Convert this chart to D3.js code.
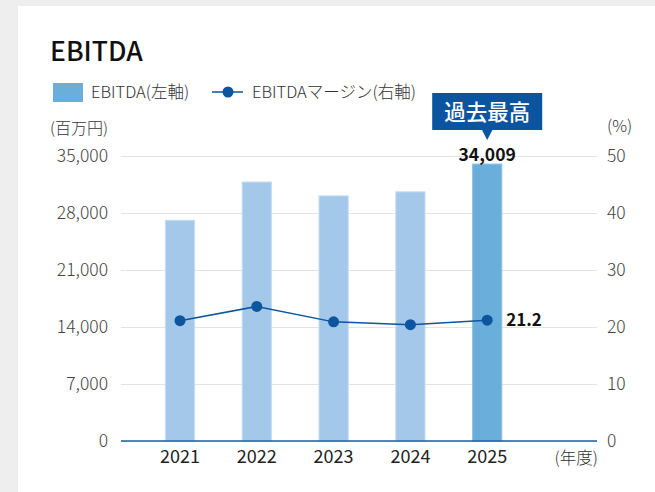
<!DOCTYPE html>
<html>
<head>
<meta charset="utf-8">
<script src="https://cdn.jsdelivr.net/npm/d3@7"></script>
<style>
  html, body { margin: 0; padding: 0; background: #eeeeee; }
  svg { display: block; }
  text { font-family: "Noto Sans CJK JP", "Noto Sans", sans-serif; }
</style>
</head>
<body>
<svg id="chart" width="655" height="492"></svg>
<script>
// EBITDA (百万円) and EBITDA margin (%) by fiscal year
const years = ["2021", "2022", "2023", "2024", "2025"];
const ebitda = [27100, 31800, 30100, 30600, 34009];
const margin = [21.1, 23.6, 20.9, 20.4, 21.2];
const leftTicks = [0, 7000, 14000, 21000, 28000, 35000];
const rightTicks = [0, 10, 20, 30, 40, 50];

const FONT = "'Noto Sans CJK JP', 'Noto Sans', sans-serif";
const svg = d3.select("#chart");

// white card
svg.append("rect").attr("x", 18).attr("y", 6).attr("width", 655 - 18).attr("height", 492 - 6).attr("fill", "#ffffff");

const plotL = 121, plotR = 597, plotT = 156, plotB = 441;

const x = d3.scaleBand().domain(years).range([141.6, 525.6]).paddingInner(0.62).paddingOuter(0.31);
const yL = d3.scaleLinear().domain([0, 35000]).range([plotB, plotT]);
const yR = d3.scaleLinear().domain([0, 50]).range([plotB, plotT]);
const cx = d => x(d) + x.bandwidth() / 2;

// title
svg.append("text").attr("x", 50).attr("y", 61).attr("font-size", 26.5).attr("font-weight", 500)
  .attr("fill", "#111").text("EBITDA");

// legend
svg.append("rect").attr("x", 53).attr("y", 83).attr("width", 30).attr("height", 19).attr("fill", "#6aafdb");
svg.append("text").attr("x", 91).attr("y", 98).attr("font-size", 16.5).attr("font-weight", 300).attr("fill", "#333").text("EBITDA(左軸)");
svg.append("line").attr("x1", 212).attr("x2", 243).attr("y1", 92).attr("y2", 92).attr("stroke", "#0d559f").attr("stroke-width", 1.5);
svg.append("circle").attr("cx", 228).attr("cy", 92).attr("r", 5.5).attr("fill", "#0d559f");
svg.append("text").attr("x", 252).attr("y", 98).attr("font-size", 16.5).attr("font-weight", 300).attr("fill", "#333").text("EBITDAマージン(右軸)");

// axis unit labels
svg.append("text").attr("x", 50).attr("y", 134).attr("font-size", 16).attr("font-weight", 300).attr("fill", "#333").text("(百万円)");
svg.append("text").attr("x", 607).attr("y", 132).attr("font-size", 16.5).attr("font-weight", 300).attr("fill", "#333").text("(%)");
svg.append("text").attr("x", 598).attr("y", 464).attr("font-size", 16.5).attr("font-weight", 300).attr("fill", "#333")
  .attr("text-anchor", "end").text("(年度)");

// gridlines + left axis
const gLeft = svg.append("g").attr("transform", `translate(${plotL},0)`)
  .call(d3.axisLeft(yL).tickValues(leftTicks).tickSize(-(plotR - plotL)).tickPadding(13)
    .tickFormat(d3.format(",")));
gLeft.select(".domain").remove();
gLeft.selectAll(".tick line").attr("stroke", "#e3e3e3").attr("stroke-width", 1);
gLeft.selectAll(".tick text").attr("font-size", 17.5).attr("font-weight", 300).attr("fill", "#444").attr("font-family", FONT);

// right axis
const gRight = svg.append("g").attr("transform", `translate(${plotR},0)`)
  .call(d3.axisRight(yR).tickValues(rightTicks).tickSize(0).tickPadding(10));
gRight.select(".domain").remove();
gRight.selectAll(".tick text").attr("font-size", 17.5).attr("font-weight", 300).attr("fill", "#444").attr("font-family", FONT);

// bars
svg.append("g").selectAll("rect").data(years).join("rect")
  .attr("x", d => x(d)).attr("width", x.bandwidth())
  .attr("y", (d, i) => yL(ebitda[i])).attr("height", (d, i) => plotB - yL(ebitda[i]))
  .attr("fill", (d, i) => i === years.length - 1 ? "#6aafdb" : "#a3c8e9")
  .attr("stroke", (d, i) => i === years.length - 1 ? "#8cc2e4" : "#c4dcf1").attr("stroke-width", 1);

// x axis baseline and labels
const gX = svg.append("g").attr("transform", `translate(0,${plotB})`)
  .call(d3.axisBottom(x).tickSize(0).tickPadding(9));
gX.select(".domain").remove();
gX.selectAll(".tick text").attr("font-size", 18).attr("fill", "#222").attr("font-family", FONT);
svg.append("line").attr("x1", plotL).attr("x2", plotR).attr("y1", plotB).attr("y2", plotB)
  .attr("stroke", "#1a5fa3").attr("stroke-width", 1.5);

// margin line
const line = d3.line().x((d, i) => cx(years[i])).y(d => yR(d));
svg.append("path").datum(margin).attr("d", line).attr("fill", "none")
  .attr("stroke", "#0d559f").attr("stroke-width", 1.5);
svg.append("g").selectAll("circle").data(margin).join("circle")
  .attr("cx", (d, i) => cx(years[i])).attr("cy", d => yR(d)).attr("r", 5.5).attr("fill", "#0d559f");

// value labels for latest year
const last = years.length - 1;
svg.append("text").attr("x", cx(years[last])).attr("y", yL(ebitda[last]) - 3)
  .attr("text-anchor", "middle").attr("font-size", 17.5).attr("font-weight", 700).attr("fill", "#111")
  .text(d3.format(",")(ebitda[last]));
svg.append("text").attr("x", cx(years[last]) + 19).attr("y", yR(margin[last])).attr("dy", "0.35em")
  .attr("font-size", 17).attr("font-weight", 700).attr("fill", "#111")
  .text(margin[last].toFixed(1));

// record-high callout
const bx = cx(years[last]);
svg.append("rect").attr("x", bx - 55).attr("y", 93).attr("width", 110).attr("height", 37).attr("fill", "#0b55a0");
svg.append("path").attr("d", `M${bx - 5.5},129.5 L${bx + 5.5},129.5 L${bx},140 Z`).attr("fill", "#0b55a0");
svg.append("text").attr("x", bx).attr("y", 112).attr("dy", "0.36em").attr("text-anchor", "middle")
  .attr("font-size", 21.5).attr("font-weight", 500).attr("fill", "#ffffff").text("過去最高");
</script>
</body>
</html>
